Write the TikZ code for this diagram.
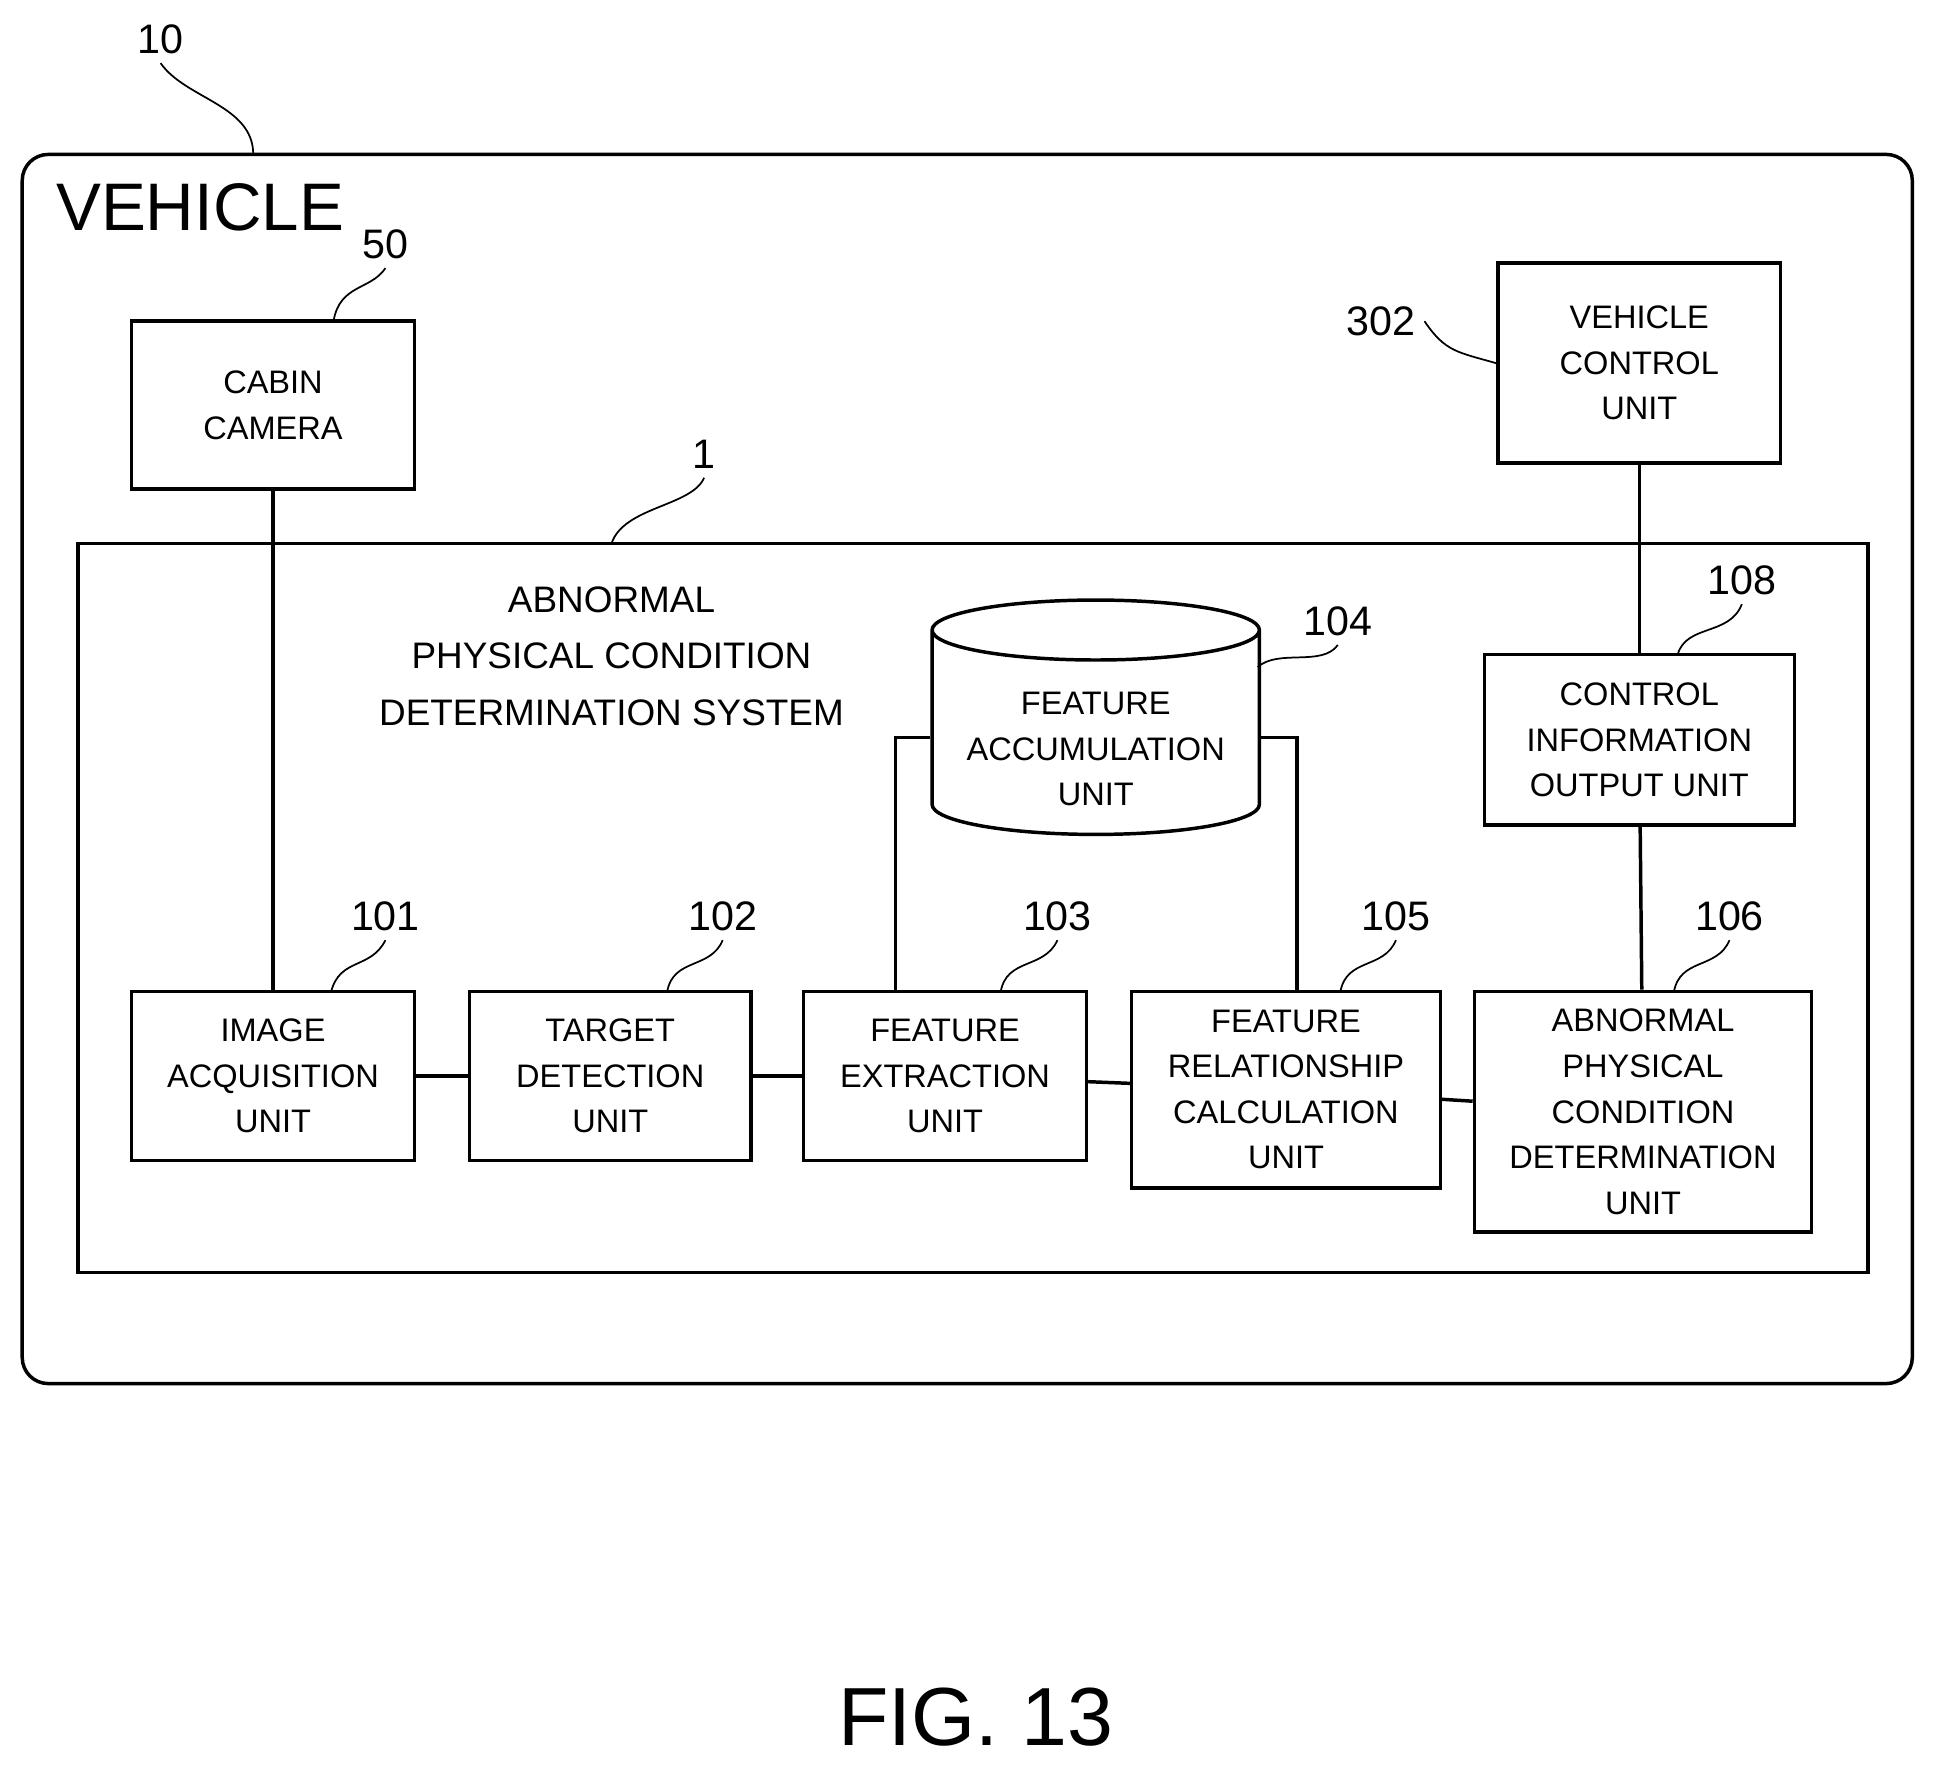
\documentclass[tikz,border=0pt]{standalone}
\usepackage{fontspec}
\setmainfont{Liberation Sans}
\usetikzlibrary{positioning, calc, shapes.geometric}

\begin{document}
\begin{tikzpicture}[x=0.02cm, y=-0.02cm, line width=1.6pt,
unit/.style={rectangle, draw=black, align=center, font=\fontsize{15}{21}\selectfont, inner sep=0pt},
ref/.style={font=\fontsize{19}{22}\selectfont},
lead/.style={line width=0.8pt} ]
\useasboundingbox (0,0) rectangle (1568,1433);
% frames
\draw[rounded corners=12] (18,125) rectangle (1548,1120);
\node[font=\fontsize{31}{36}\selectfont] (veh) at (162,168) {VEHICLE};
\draw (63,440) rectangle (1512,1030);
\node[align=center, font=\fontsize{17}{26}\selectfont] (sys) at (495,531) {ABNORMAL\\PHYSICAL CONDITION\\DETERMINATION SYSTEM};
% units
\node (cam) [unit, minimum width=4.58cm, minimum height=2.72cm] at (221,328) {CABIN\\CAMERA};
\node (vcu) [unit, minimum width=4.58cm, minimum height=3.24cm] at (1327,294) {VEHICLE\\CONTROL\\UNIT};
\node (acc) [cylinder, draw, shape border rotate=90, aspect=0.22, minimum width=5.3cm, minimum height=3.7cm, align=center, font=\fontsize{15}{21}\selectfont] at (887,597) {\\FEATURE\\ACCUMULATION\\UNIT};
\node (out) [unit, minimum width=5.02cm, minimum height=2.76cm] at (1327,599) {CONTROL\\INFORMATION\\OUTPUT UNIT};
\node (img) [unit, minimum width=4.58cm, minimum height=2.74cm] at (221,871) {IMAGE\\ACQUISITION\\UNIT};
\node (det) [unit, minimum width=4.56cm, minimum height=2.74cm] at (494,871) {TARGET\\DETECTION\\UNIT};
\node (ext) [unit, minimum width=4.58cm, minimum height=2.74cm] at (765,871) {FEATURE\\EXTRACTION\\UNIT};
\node (rel) [unit, minimum width=5cm, minimum height=3.18cm] at (1041,882) {FEATURE\\RELATIONSHIP\\CALCULATION\\UNIT};
\node (abn) [unit, minimum width=5.46cm, minimum height=3.9cm] at (1330,900) {ABNORMAL\\PHYSICAL\\CONDITION\\DETERMINATION\\UNIT};
% reference numerals
\node[ref] (n10) at (130,32) {10};
\node[ref] (n50) at (312,198) {50};
\node[ref] (n302) at (1118,260) {302};
\node[ref] (n1) at (570,368) {1};
\node[ref] (n104) at (1083,503) {104};
\node[ref] (n108) at (1410,470) {108};
\node[ref] (n101) at (312,742) {101};
\node[ref] (n102) at (585,742) {102};
\node[ref] (n103) at (856,742) {103};
\node[ref] (n105) at (1130,742) {105};
\node[ref] (n106) at (1400,742) {106};
\draw[lead] (n10.south) .. controls (150,80) and (205,85) .. (205,125);
\draw[lead] (n50.south) .. controls (300,235) and (275,230) .. (270,260);
\draw[lead] (n302.east) .. controls (1170,285) and (1180,285) .. (vcu.west);
\draw[lead] (n1.south) .. controls (560,410) and (505,410) .. (495,440);
\draw[lead] (n104.south) .. controls (1070,540) and (1035,525) .. (1018,540);
\draw[lead] (n108.south) .. controls (1400,515) and (1365,505) .. (1358,530);
\draw[lead] (n101.south) .. controls (300,785) and (275,775) .. (268,803);
\draw[lead] (n102.south) .. controls (575,785) and (545,775) .. (540,803);
\draw[lead] (n103.south) .. controls (845,785) and (815,775) .. (810,803);
\draw[lead] (n105.south) .. controls (1120,785) and (1090,775) .. (1085,803);
\draw[lead] (n106.south) .. controls (1390,785) and (1360,775) .. (1355,803);
% connections
\draw (cam) -- (img);
\draw (vcu) -- (out);
\draw (out) -- (abn);
\draw (img) -- (det);
\draw (det) -- (ext);
\draw (ext) -- (rel);
\draw (rel) -- (abn);
\draw (acc.west) -| ([xshift=-0.8cm]ext.north);
\draw (acc.east) -| ([xshift=0.18cm]rel.north);
\node[font=\fontsize{38}{44}\selectfont] (fig) at (790,1390) {FIG. 13};
\end{tikzpicture}
\end{document}
